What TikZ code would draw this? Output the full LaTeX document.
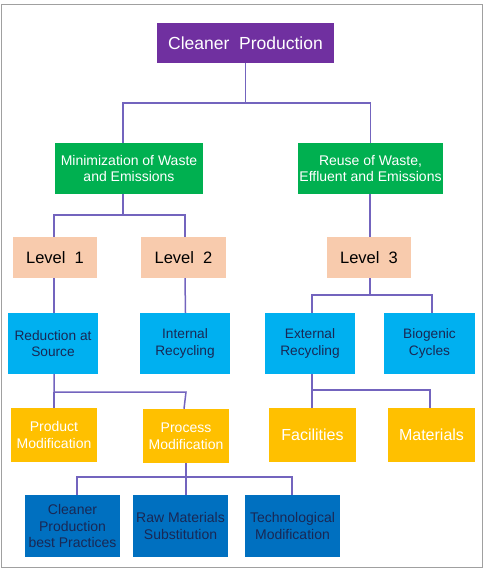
\documentclass[tikz,border=0pt]{standalone}
\usepackage{fontspec}
\setmainfont{Liberation Sans}
\definecolor{cpurple}{RGB}{112,48,160}
\definecolor{cgreen}{RGB}{0,176,80}
\definecolor{cpeach}{RGB}{248,203,173}
\definecolor{clblue}{RGB}{0,176,240}
\definecolor{cyellow}{RGB}{255,192,0}
\definecolor{cdblue}{RGB}{0,112,192}
\definecolor{cline}{RGB}{115,100,190}
\definecolor{cnavy}{RGB}{25,40,85}
\definecolor{cframe}{RGB}{160,160,160}
\tikzset{
  box/.style={rectangle, inner sep=0pt, align=center, anchor=center},
  purplebox/.style={box, fill=cpurple, text=white, font=\fontsize{17.5}{21}\selectfont},
  greenbox/.style={box, fill=cgreen, text=white, font=\fontsize{14}{16.7}\selectfont},
  peachbox/.style={box, fill=cpeach, text=black, font=\fontsize{16.5}{19}\selectfont},
  lbluebox/.style={box, fill=clblue, text=cnavy, font=\fontsize{13.7}{16.7}\selectfont},
  yellowbox/.style={box, fill=cyellow, text=white, font=\fontsize{14}{16.7}\selectfont},
  dbluebox/.style={box, fill=cdblue, text=cnavy, font=\fontsize{14}{16.7}\selectfont},
  conn/.style={draw=cline, line width=1.5pt},
}
\begin{document}
\begin{tikzpicture}[x=1pt,y=-1pt]
\useasboundingbox (0,0) rectangle (485,572);
\draw[cframe, line width=1.5pt] (1.5,4.5) rectangle (482.5,567.5);

\node[purplebox, minimum width=177pt, minimum height=40pt] (cp) at (245.5,43) {Cleaner\ \ Production};
\node[greenbox, minimum width=148pt, minimum height=51pt] (g1) at (129,168.5) {Minimization of Waste\\and Emissions};
\node[greenbox, minimum width=145pt, minimum height=51pt] (g2) at (370.5,168.5) {Reuse of Waste,\\Effluent and Emissions};

\node[peachbox, minimum width=84pt, minimum height=41pt] (l1) at (55,257.5) {Level\ \ 1};
\node[peachbox, minimum width=85pt, minimum height=41pt] (l2) at (183.5,257.5) {Level\ \ 2};
\node[peachbox, minimum width=84pt, minimum height=41pt] (l3) at (369,257.5) {Level\ \ 3};

\node[lbluebox, minimum width=90pt, minimum height=61pt] (red) at (53,343.5) {Reduction at\\Source};
\node[lbluebox, minimum width=90pt, minimum height=61pt] (int) at (185,343.5) {Internal\\Recycling};
\node[lbluebox, minimum width=90pt, minimum height=61pt] (ext) at (310,343.5) {External\\Recycling};
\node[lbluebox, minimum width=91pt, minimum height=61pt] (bio) at (429.5,343.5) {Biogenic\\Cycles};

\node[yellowbox, minimum width=86pt, minimum height=54pt] (prod) at (54,435) {Product\\Modification};
\node[yellowbox, minimum width=86pt, minimum height=54pt] (proc) at (186,436) {Process\\Modification};
\node[yellowbox, minimum width=87pt, minimum height=54pt, font=\fontsize{16}{19}\selectfont] (fac) at (312.5,435) {Facilities};
\node[yellowbox, minimum width=87pt, minimum height=54pt, font=\fontsize{16}{19}\selectfont] (mat) at (431.5,435) {Materials};

\node[dbluebox, minimum width=95pt, minimum height=62pt] (cpb) at (72.5,526) {Cleaner\\Production\\best Practices};
\node[dbluebox, minimum width=95pt, minimum height=62pt] (raw) at (180.5,526) {Raw Materials\\Substitution};
\node[dbluebox, minimum width=95pt, minimum height=62pt] (tech) at (292.5,526) {Technological\\Modification};

\coordinate (y1) at (0,103);
\coordinate (y2) at (0,215);
\coordinate (y3) at (0,295);
\coordinate (y4) at (0,392);
\coordinate (y5) at (0,390);
\coordinate (y6) at (0,477);

% top level
\draw[conn] (cp.south) -- (cp.south |- y1);
\draw[conn] ([xshift=-6pt]g1.north) |- (cp.south |- y1) -| (g2.north);
% minimization split
\draw[conn] ([xshift=-6pt]g1.south) -- ([xshift=-6pt]g1.south |- y2);
\draw[conn] ([xshift=-1pt]l1.north) |- ([xshift=-6pt]g1.south |- y2) -| ([xshift=1.5pt]l2.north);
% reuse
\draw[conn] ([xshift=-0.5pt]g2.south) -- ([xshift=1pt]l3.north);
% level 1, 2
\draw[conn] ([xshift=-1pt]l1.south) -- ([xshift=1pt]red.north);
\draw[conn] ([xshift=1.5pt]l2.south) -- ([xshift=0.5pt]int.north);
% level 3 split
\draw[conn] ([xshift=1pt]l3.south) -- ([xshift=1pt]l3.south |- y3);
\draw[conn] ([xshift=2pt]ext.north) |- ([xshift=1pt]l3.south |- y3) -| ([xshift=2.5pt]bio.north);
% reduction split
\draw[conn] ([xshift=1pt]red.south) |- (proc.north |- y4) -- ([xshift=-2pt]proc.north);
\draw[conn] ([xshift=1pt]red.south |- y4) -- ([xshift=1pt]red.south |- prod.north);
% external split
\draw[conn] ([xshift=2pt]ext.south) |- ([xshift=-1.5pt]mat.north |- y5) -- ([xshift=-1.5pt]mat.north);
\draw[conn] ([xshift=2pt]ext.south |- y5) -- ([xshift=-0.5pt]fac.north);
% process split
\draw[conn] (proc.south) -- (proc.south |- y6);
\draw[conn] ([xshift=4.5pt]cpb.north) |- (proc.south |- y6) -| ([xshift=-0.5pt]tech.north);
\draw[conn] (proc.south |- y6) -- ([xshift=5.5pt]raw.north);
\end{tikzpicture}
\end{document}
